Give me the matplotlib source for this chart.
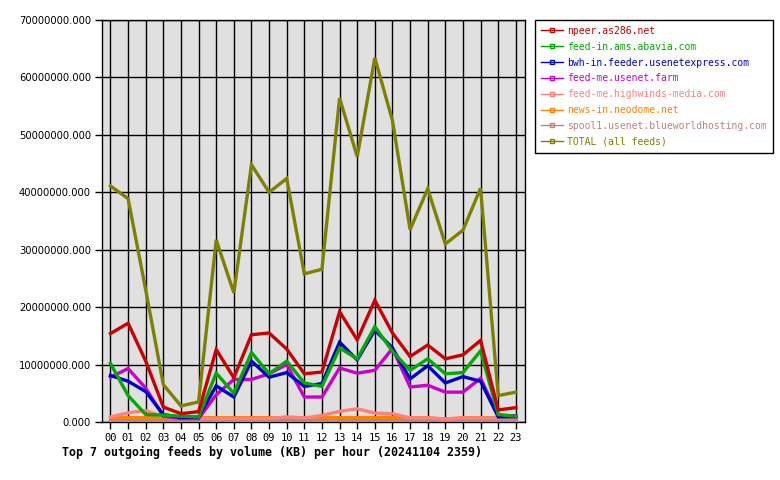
import matplotlib
matplotlib.use('Agg')
import matplotlib.pyplot as plt
from matplotlib.lines import Line2D
from matplotlib.ticker import FormatStrFormatter

hours = ['%02d' % h for h in range(24)]

# KB per hour
npeer = [15.4, 17.2, 10.6, 2.6, 1.45, 1.8, 12.6, 7.7, 15.2, 15.5, 12.7, 8.4,
         8.7, 19.2, 14.3, 21.2, 15.5, 11.4, 13.4, 11.0, 11.7, 14.2, 2.1, 2.5]
abavia = [10.2, 4.6, 1.3, 1.2, 1.0, 0.9, 8.5, 5.0, 12.1, 8.4, 10.6, 6.8,
          6.2, 12.9, 11.0, 16.6, 12.3, 9.0, 11.0, 8.4, 8.6, 12.4, 1.3, 1.0]
bwh = [8.1, 7.1, 5.3, 1.3, 0.8, 0.9, 6.3, 4.35, 10.6, 7.8, 8.6, 6.2,
       6.7, 13.9, 10.8, 16.0, 12.9, 7.5, 9.8, 6.8, 7.9, 7.1, 0.9, 0.9]
farm = [7.8, 9.3, 5.9, 1.0, 0.6, 0.6, 4.75, 7.4, 7.4, 8.4, 10.0, 4.35,
        4.35, 9.4, 8.5, 9.0, 12.8, 6.1, 6.4, 5.2, 5.2, 7.6, 1.1, 1.1]
highwinds = [0.9, 1.6, 2.0, 0.9, 0.6, 0.6, 0.6, 0.6, 0.6, 0.6, 0.9, 0.7,
             1.15, 1.85, 2.3, 1.55, 1.45, 0.7, 0.7, 0.5, 0.7, 0.7, 0.7, 0.7]
neodome = [0.75, 0.75, 0.75, 0.75, 0.75, 0.75, 0.75, 0.75, 0.75, 0.75, 0.75, 0.75,
           0.75, 0.75, 0.75, 0.75, 0.75, 0.75, 0.75, 0.5, 0.75, 0.75, 0.75, 0.75]
spool1 = [0.3] * 24
total = [41.1, 38.9, 23.0, 6.5, 2.8, 3.5, 31.7, 22.5, 44.8, 40.0, 42.4, 25.8,
         26.6, 56.4, 46.2, 63.4, 52.5, 33.5, 40.6, 31.0, 33.4, 40.7, 4.6, 5.2]

names = ['npeer.as286.net', 'feed-in.ams.abavia.com', 'bwh-in.feeder.usenetexpress.com',
         'feed-me.usenet.farm', 'feed-me.highwinds-media.com', 'news-in.neodome.net',
         'spool1.usenet.blueworldhosting.com', 'TOTAL (all feeds)']
series = [npeer, abavia, bwh, farm, highwinds, neodome, spool1, total]
colors = ['#cc0000', '#00aa00', '#0000cc', '#cc00cc', '#ff8080', '#ff8000',
          '#c08080', '#808000']

fig = plt.figure(figsize=(7.8, 4.8), dpi=100)
ax = fig.add_axes([102 / 780, 58 / 480, 423 / 780, 402 / 480])
ax.set_facecolor('#e0e0e0')

x = list(range(24))
# draw small feeds first so the big ones sit on top, like the original
order = [6, 5, 4, 3, 2, 1, 0, 7]
for i in order:
    ax.plot(x, [v * 1e6 for v in series[i]], color=colors[i], lw=2.4,
            solid_joinstyle='miter', zorder=3)

ax.set_xlim(-0.48, 23.52)
ax.set_ylim(0, 70e6)
ax.set_xticks(x)
ax.set_xticklabels(hours, family='DejaVu Sans Mono', fontsize=7.5)
ax.set_yticks([i * 10e6 for i in range(8)])
ax.yaxis.set_major_formatter(FormatStrFormatter('%.3f'))
for t in ax.get_yticklabels():
    t.set_fontsize(7.2)
ax.tick_params(direction='out', length=5, width=1, color='black', pad=3)
ax.grid(True, color='black', lw=1, zorder=1)
ax.set_axisbelow(True)
for s in ax.spines.values():
    s.set_color('black')
    s.set_linewidth(1)

fig.text(62 / 780, 1 - 452 / 480, 'Top 7 outgoing feeds by volume (KB) per hour (20241104 2359)',
         family='DejaVu Sans Mono', fontweight='bold', fontsize=8.35, va='center', ha='left')

handles = [Line2D([0], [0], color=c, lw=1, marker='s', markersize=3,
                  markerfacecolor='none', markeredgecolor=c) for c in colors]
leg = fig.legend(handles, names, loc='upper left', bbox_to_anchor=(535 / 780, 1 - 20 / 480),
                 frameon=True, fancybox=False, edgecolor='black', framealpha=1,
                 prop={'family': 'DejaVu Sans Mono', 'size': 7.0},
                 handlelength=2.3, handletextpad=0.4, labelspacing=0.6,
                 borderpad=0.6, borderaxespad=0)
leg.get_frame().set_linewidth(1)
for txt, c in zip(leg.get_texts(), colors):
    txt.set_color(c)

fig.savefig('out.png', dpi=100)
